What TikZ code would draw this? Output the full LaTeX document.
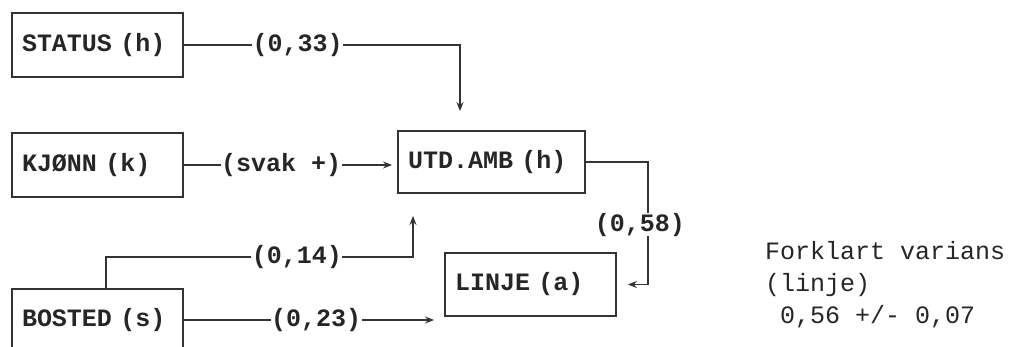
\documentclass[tikz,border=0pt]{standalone}
\usepackage{fontspec}
\setmonofont{Liberation Mono}
\usetikzlibrary{arrows.meta}
\begin{document}
\begin{tikzpicture}[
				x=1pt, y=-1pt,
				every node/.style={font=\ttfamily\fontsize{25}{32}\selectfont, text=black!85},
				box/.style={draw=black!80, line width=1.8pt, minimum height=64pt, text width=151pt, inner xsep=10pt, align=left, font=\ttfamily\bfseries\fontsize{25}{32}\selectfont},
				lbl/.style={fill=white, inner xsep=0.5pt, inner ysep=0pt, font=\ttfamily\bfseries\fontsize{25}{32}\selectfont},
				arr/.style={draw=black!80, line width=1.6pt, -{Stealth[length=9pt,width=7pt]}}
				]
				\useasboundingbox (0,0) rectangle (1013,347);
				% left column
				\node[box] (status) at (97.5,45) {STATUS (h)};
				\node[box] (kjonn) at (97.5,165) {KJØNN (k)};
				\node[box, minimum height=62pt] (bosted) at (97.5,320) {BOSTED (s)};
				% middle
				\node[box, text width=167pt, minimum height=62pt] (utd) at (491.5,162) {UTD.AMB (h)};
				\node[box, minimum height=63pt] (linje) at (530.5,284.5) {LINJE (a)};
				% forklart varians
				\node[anchor=west, align=left, inner sep=0pt] (varians) at (765,285) {Forklart varians\\(linje)\\\phantom{0}0,56 +/- 0,07};
				% paths
				\draw[arr, shorten >=19pt] (status.east) -| node[lbl, pos=0.206] {(0,33)} ([xshift=-31.5pt]utd.north);
				\draw[arr, shorten >=5pt] (kjonn.east) -- node[lbl, pos=0.456] {(svak +)} (kjonn.east -| utd.west);
				\draw[arr, shorten >=22pt] ([xshift=8.5pt]bosted.north) -- ++(0,-31) -| node[lbl, pos=0.311] {(0,14)} ([xshift=-78.5pt]utd.south);
				\draw[arr, shorten >=10pt] (bosted.east) -- node[lbl, pos=0.508] {(0,23)} (bosted.east -| linje.west);
				\draw[arr, shorten >=11pt] (utd.east) -- ++(62,0) |- node[lbl, pos=0.256, xshift=-8pt] {(0,58)} (linje.east);
			\end{tikzpicture}
\end{document}
